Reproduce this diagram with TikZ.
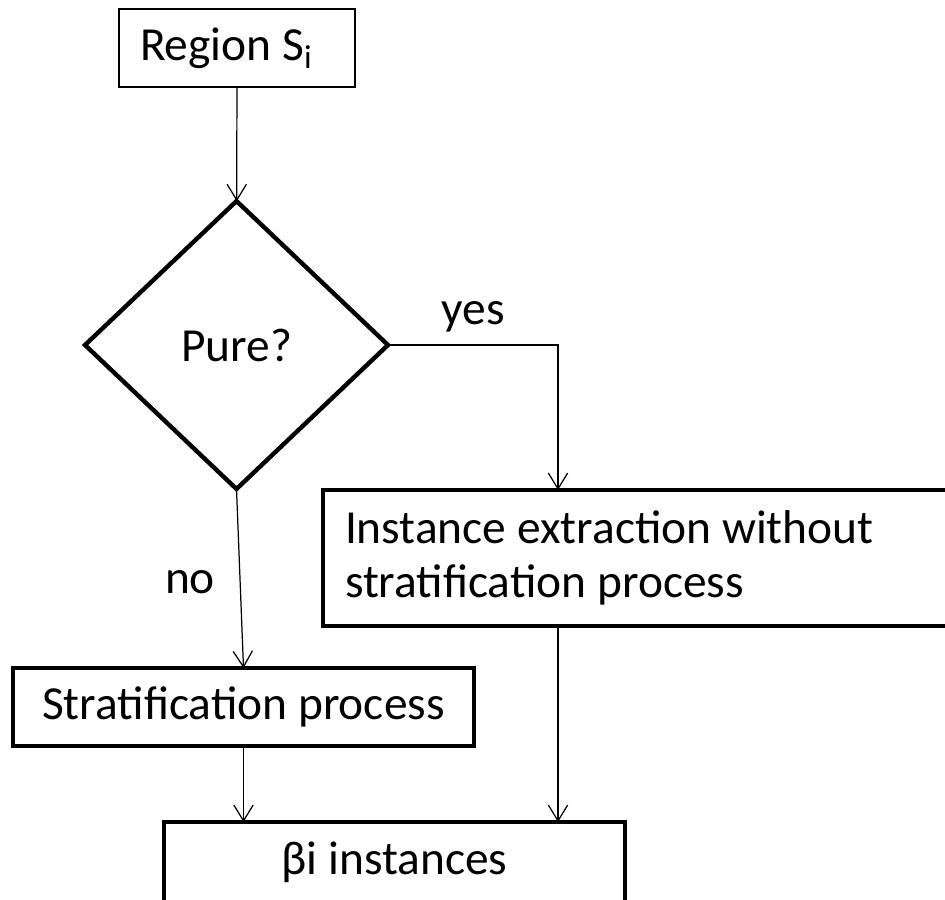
\documentclass[tikz,border=0pt]{standalone}
\usepackage{fontspec}
\setmainfont{Carlito}
\usetikzlibrary{shapes.geometric}
\usetikzlibrary{arrows.meta}
\usetikzlibrary{calc}

\begin{document}
\begin{tikzpicture}[x=0.02cm, y=-0.02cm,
    font=\fontsize{27}{31}\selectfont,
    thinbox/.style={draw, rectangle, line width=0.9pt, inner sep=0pt, outer sep=0pt},
    thickbox/.style={draw, rectangle, line width=2.6pt, inner sep=0pt, outer sep=0pt},
    arr/.style={line width=0.7pt, -{Straight Barb[length=9pt,width=11pt]}}]
    \clip (0,0) rectangle (945,899);
    \node[thinbox, minimum width=4.72cm, minimum height=1.56cm,
          text width=3.88cm, inner xsep=0.42cm, align=flush left] (region) at (237,48) {Region S\textsubscript{i}};
    \node[draw, diamond, line width=2.5pt, inner sep=0pt, outer sep=0pt,
          minimum width=6.06cm, minimum height=5.76cm] (pure) at (236.5,345) {Pure?};
    \node[thickbox, anchor=north west, minimum width=14cm, minimum height=2.72cm,
          text width=13.12cm, inner xsep=0.44cm, align=flush left] (inst) at (323,490)
          {Instance extraction without\\stratification process};
    \node[thickbox, minimum width=9.22cm, minimum height=1.56cm] (strat) at (243.5,707) {Stratification process};
    \node[thickbox, minimum width=9.22cm, minimum height=1.6cm] (beta) at (394.5,862) {βi instances};
    \node (yes) at (473,317) {yes};
    \node (no) at (190,582) {no};
    \coordinate (instin) at ($(inst.north west)+(235,0)$);
    \coordinate (instout) at ($(inst.south west)+(235,0)$);
    \draw[arr] (region) -- (pure);
    \draw[arr] (pure.east) -| (instin);
    \draw[arr] (pure.south) -- (strat.north);
    \draw[arr] (strat.south) -- (strat.south |- beta.north);
    \draw[arr] (instout) -- (instout |- beta.north);
\end{tikzpicture}
\end{document}
